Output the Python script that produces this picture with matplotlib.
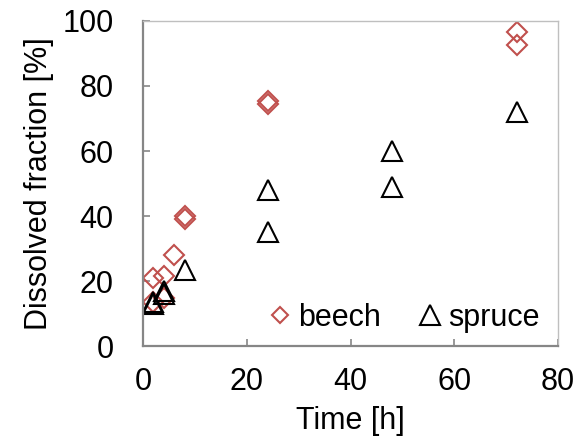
import matplotlib.pyplot as plt

plt.rcParams["font.family"] = ["Liberation Sans", "DejaVu Sans"]

# time [h] and dissolved fraction [%]
beech_time = [2, 2, 4, 4, 6, 8, 8, 24, 24, 72, 72]
beech_frac = [21, 13.5, 21.5, 15, 28, 40, 39, 75.5, 74.5, 96.5, 92.5]
spruce_time = [2, 2, 4, 4, 8, 24, 24, 48, 48, 72]
spruce_frac = [13.5, 13, 17, 16, 23.5, 48, 35, 60, 49, 72]

x_ticks = [0, 20, 40, 60, 80]
y_ticks = [0, 20, 40, 60, 80, 100]

RED = "#C0504D"
AXIS = "#868686"
FS = 22


def main():
    fig = plt.figure(figsize=(5.79, 4.43), dpi=100)
    ax = fig.add_axes([0.247, 0.218, 0.717, 0.735])

    ax.plot(beech_time, beech_frac, linestyle="none", marker="D", ms=10.5,
            mfc="none", mec=RED, mew=1.5, label="beech")
    ax.plot(spruce_time, spruce_frac, linestyle="none", marker="^", ms=14,
            mfc="none", mec="black", mew=1.5, label="spruce")

    ax.set_xlim(0, 80)
    ax.set_ylim(0, 100)
    ax.set_xticks(x_ticks)
    ax.set_yticks(y_ticks)

    for side in ("left", "bottom"):
        ax.spines[side].set_color(AXIS)
        ax.spines[side].set_linewidth(1.6)
    for side in ("top", "right"):
        ax.spines[side].set_color("#BFBFBF")
        ax.spines[side].set_linewidth(1.0)

    ax.tick_params(direction="in", length=5, width=1.2, color=AXIS,
                   labelsize=FS, labelcolor="black")
    ax.tick_params(axis="y", pad=21)
    ax.tick_params(axis="x", pad=15)

    ax.set_xlabel("Time [h]", fontsize=FS, labelpad=6)
    ax.set_ylabel("Dissolved fraction [%]", fontsize=FS, labelpad=6)

    leg = ax.legend(loc="lower right", bbox_to_anchor=(1.0, -0.015), ncol=2,
                    frameon=False, fontsize=FS, handlelength=0.8,
                    handletextpad=0.2, columnspacing=1.2, borderaxespad=0.2)
    leg.legend_handles[0].set_markersize(8.5)

    fig.savefig("out.png", dpi=100)


if __name__ == "__main__":
    main()
